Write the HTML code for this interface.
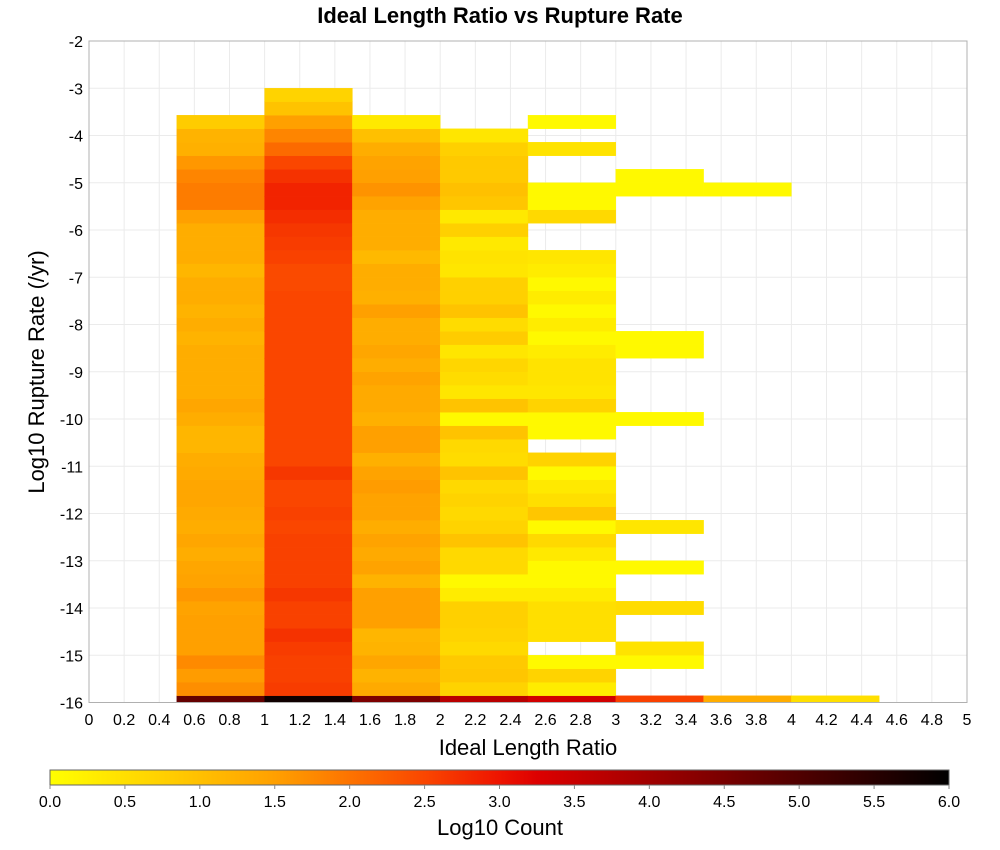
<!DOCTYPE html>
<html><head><meta charset="utf-8"><style>
body{margin:0;background:#fff;}
svg{display:block;font-family:"Liberation Sans","DejaVu Sans",sans-serif;}
</style></head><body>
<svg id="chart" width="1000" height="850" viewBox="0 0 1000 850">
<defs>
<clipPath id="plotclip"><rect x="89" y="41" width="878" height="661.5"/></clipPath>
<linearGradient id="cbgrad" x1="0" x2="1" y1="0" y2="0"></linearGradient>
</defs>
<text x="500" y="23" text-anchor="middle" font-size="22" font-weight="bold" fill="#000">Ideal Length Ratio vs Rupture Rate</text>
<rect x="89" y="41" width="878" height="661.5" fill="#fff"/>
<g id="grid"></g>
<g id="cells" clip-path="url(#plotclip)"></g>
<rect x="89" y="41" width="878" height="661.5" fill="none" stroke="#b0b0b0"/>
<g id="xticks"></g>
<g id="yticks"></g>
<text x="528" y="755" text-anchor="middle" font-size="22">Ideal Length Ratio</text>
<text transform="translate(44,372) rotate(-90)" text-anchor="middle" font-size="22">Log10 Rupture Rate (/yr)</text>
<rect x="50" y="770" width="899" height="15" fill="url(#cbgrad)" stroke="#666"/>
<g id="cbticks"></g>
<text x="500" y="835" text-anchor="middle" font-size="22">Log10 Count</text>
</svg>
<script>
const xBinStarts = [0.5, 1.0, 1.5, 2.0, 2.5, 3.0, 3.5, 4.0];
const binWidth = 0.5;
const yMin = -16, yMax = -2, rowStep = 2/7;
// values indexed from bottom row (k=0 at -16) upward; null = empty
const colA = [4.75,1.7,1.55,1.75,1.5,1.5,1.5,1.45,1.6,1.45,1.4,1.3,1.4,1.3,1.35,1.4,1.4,1.35,1.3,1.15,1.15,1.3,1.4,
  1.3,1.3,1.3,1.3,1.2,1.3,1.2,1.3,1.3,1.15,1.3,1.3,1.3,1.5,1.9,1.9,1.8,1.6,1.25,1.2,0.8];
const colB = [5.8,2.6,2.55,2.55,2.6,2.7,2.55,2.55,2.65,2.55,2.55,2.55,2.55,2.5,2.55,2.5,2.5,2.65,2.5,2.5,2.5,2.5,2.5,
  2.5,2.5,2.5,2.5,2.5,2.5,2.5,2.5,2.45,2.45,2.55,2.6,2.65,2.75,2.85,2.85,2.7,2.5,2.1,1.8,1.5,0.95,0.7];
const colC = [4.45,1.35,1.2,1.4,1.2,1.15,1.5,1.5,1.5,1.2,1.45,1.35,1.45,1.3,1.45,1.45,1.55,1.45,1.25,1.5,1.5,1.25,1.35,
  1.35,1.45,1.3,1.4,1.3,1.3,1.5,1.25,1.3,1.3,1.1,1.3,1.3,1.3,1.45,1.65,1.5,1.45,1.3,1.0,0.35];
const colD = [3.7,0.7,0.9,0.85,0.6,0.7,0.75,0.75,0.3,0.1,0.6,0.6,0.95,0.7,0.6,0.7,0.6,0.95,0.55,0.6,0.95,0.1,0.95,
  0.4,0.55,0.65,0.4,0.8,0.55,0.95,0.75,0.75,0.4,0.45,0.35,0.75,0.35,0.9,1.0,0.85,0.85,0.75,0.4];
const colE = [3.4,0.3,0.7,0.1,null,0.5,0.5,0.5,0.3,0.1,0.1,0.35,0.6,0.1,0.9,0.5,0.35,0.1,0.7,null,0.1,0.1,0.7,
  0.4,0.45,0.45,0.3,0.1,0.3,0.1,0.3,0.1,0.3,0.4,null,null,0.6,0.1,0.1,null,null,0.45,null,0.1];
const colF = [2.55,null,null,0.1,0.45,null,null,0.55,null,null,0.1,null,null,0.4,null,null,null,null,null,null,null,0.1,null,
  null,null,null,0.1,0.1,null,null,null,null,null,null,null,null,null,null,0.1,0.1];
const colG = [1.3,null,null,null,null,null,null,null,null,null,null,null,null,null,null,null,null,null,null,null,null,null,null,
  null,null,null,null,null,null,null,null,null,null,null,null,null,null,null,0.1];
const colH = [0.5];
const columns = [colA, colB, colC, colD, colE, colF, colG, colH];
const xTickLabels = ["0","0.2","0.4","0.6","0.8","1","1.2","1.4","1.6","1.8","2","2.2","2.4","2.6","2.8","3","3.2","3.4","3.6","3.8","4","4.2","4.4","4.6","4.8","5"];
const yTickLabels = ["-2","-3","-4","-5","-6","-7","-8","-9","-10","-11","-12","-13","-14","-15","-16"];
const cbTickLabels = ["0.0","0.5","1.0","1.5","2.0","2.5","3.0","3.5","4.0","4.5","5.0","5.5","6.0"];

const NS = "http://www.w3.org/2000/svg";
const PX0 = 89, PX1 = 967, PY0 = 41, PY1 = 702.5;
const xs = v => PX0 + (v - 0) / 5 * (PX1 - PX0);
const ys = v => PY0 + (yMax - v) / (yMax - yMin) * (PY1 - PY0);
const CB0 = 50, CB1 = 949;
const cbx = v => CB0 + v / 6 * (CB1 - CB0);
const stops = [[0,255,255,0],[1.5,255,160,0],[2.5,250,70,0],[3.0,238,20,0],[3.2,225,0,0],[6,0,0,0]];
function color(v){
  for (let i = 1; i < stops.length; i++){
    if (v <= stops[i][0] || i === stops.length-1){
      const a = stops[i-1], b = stops[i];
      let t = (v - a[0]) / (b[0] - a[0]); t = Math.max(0, Math.min(1, t));
      const c = [1,2,3].map(j => Math.round(a[j] + (b[j]-a[j])*t));
      return `rgb(${c[0]},${c[1]},${c[2]})`;
    }
  }
}
function mk(tag, attrs, parent){
  const el = document.createElementNS(NS, tag);
  for (const k in attrs) el.setAttribute(k, attrs[k]);
  parent.appendChild(el);
  return el;
}
// gradient
const grad = document.getElementById("cbgrad");
for (let i = 0; i <= 24; i++){
  const v = i * 0.25;
  mk("stop", {offset: (v/6*100)+"%", "stop-color": color(v)}, grad);
}
// grid
const grid = document.getElementById("grid");
for (let i = 1; i < xTickLabels.length - 1; i++){
  const x = xs(parseFloat(xTickLabels[i]));
  const l = mk("line", {x1:x, x2:x, y1:PY0, y2:PY1, stroke:"#ebebeb", "stroke-width":1}, grid);
  
  
}
for (let i = 1; i < yTickLabels.length - 1; i++){
  const y = ys(parseFloat(yTickLabels[i]));
  const l = mk("line", {x1:PX0, x2:PX1, y1:y, y2:y, stroke:"#ebebeb", "stroke-width":1}, grid);
  
  
}
// cells
const cells = document.getElementById("cells");
columns.forEach((col, ci) => {
  const x0 = xs(xBinStarts[ci]), x1 = xs(xBinStarts[ci] + binWidth);
  col.forEach((v, k) => {
    if (v === null || v === undefined) return;
    const c = yMin + k * rowStep;
    const yt = ys(c + rowStep/2), yb = ys(c - rowStep/2);
    const r = mk("rect", {x:x0, y:yt, width:x1-x0, height:yb-yt, fill:color(v), stroke:color(v), "stroke-width":0.4}, cells);
    
    
  });
});
// x ticks
const xt = document.getElementById("xticks");
xTickLabels.forEach(lbl => {
  const x = xs(parseFloat(lbl));
  const t = mk("text", {x:x, y:725, "text-anchor":"middle", "font-size":16, fill:"#000"}, xt);
  t.textContent = lbl;
  
  
});
const yt = document.getElementById("yticks");
yTickLabels.forEach(lbl => {
  const y = ys(parseFloat(lbl));
  const t = mk("text", {x:83, y:y+6, "text-anchor":"end", "font-size":16, fill:"#000"}, yt);
  t.textContent = lbl;
  
  
});
const cbt = document.getElementById("cbticks");
cbTickLabels.forEach(lbl => {
  const x = cbx(parseFloat(lbl));
  const tk = mk("line", {x1:x, x2:x, y1:785, y2:789, stroke:"#888"}, cbt);
  
  
  const t = mk("text", {x:x, y:807, "text-anchor":"middle", "font-size":16, fill:"#000"}, cbt);
  t.textContent = lbl;
  
  
});
</script>
</body></html>
